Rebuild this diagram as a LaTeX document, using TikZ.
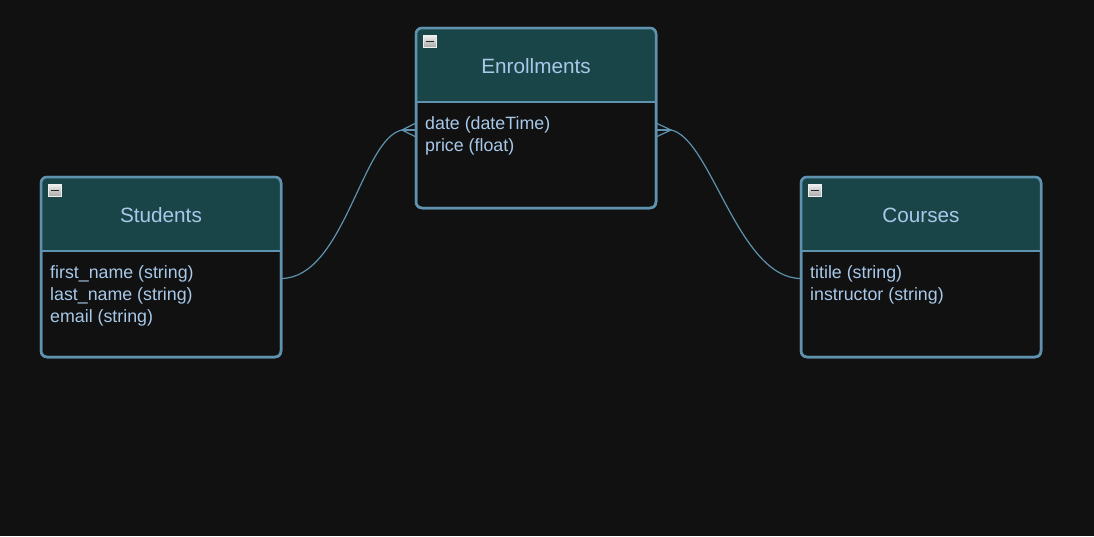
\documentclass[tikz,border=0pt]{standalone}
\usepackage{fontspec}
\setmainfont{Liberation Sans}
\definecolor{bg}{HTML}{111111}
\definecolor{hdr}{HTML}{1A4548}
\definecolor{bord}{HTML}{5E92AE}
\definecolor{txt}{HTML}{A8C8EA}
\definecolor{iconhi}{HTML}{EEEEEE}
\definecolor{iconlo}{HTML}{A8A8A8}
\tikzset{
  erbox/.style={fill=bg, draw=bord, line width=2.5pt, rounded corners=6pt,
    minimum width=240pt, minimum height=180pt, inner sep=0pt, outer sep=0pt},
  bordline/.style={draw=bord, line width=2.5pt},
  ttl/.style={text=txt, font=\fontsize{20.7}{24}\selectfont, inner sep=0pt},
  attr/.style={text=txt, font=\fontsize{17.8}{22}\selectfont, inner sep=0pt},
  iconbox/.style={minimum width=13pt, minimum height=12pt, inner sep=0pt,
    draw=iconhi, line width=0.9pt, top color=iconhi, bottom color=iconlo},
  conn/.style={draw=bord, line width=1.2pt},
}
\newcommand\erentity[5]{%
  \node[erbox, anchor=north west] (#1) at (#2,#3) {};
  \begin{scope}
    \clip[rounded corners=6pt] (#1.north west) rectangle (#1.south east);
    \fill[hdr] (#1.north west) rectangle ([yshift=-74pt]#1.north east);
  \end{scope}
  \draw[bordline] ([yshift=-74pt]#1.north west) -- ([yshift=-74pt]#1.north east);
  \draw[bordline, rounded corners=6pt] (#1.north west) rectangle (#1.south east);
  \node[iconbox, anchor=north west] (#1-i) at ([xshift=7pt,yshift=-7pt]#1.north west) {};
  \draw[line width=1.7pt, black!85] ([xshift=2.5pt]#1-i.west) -- ([xshift=-2.5pt]#1-i.east);
  \node[ttl, anchor=base] (#1-t) at ([yshift=-45pt]#1.north) {#4};
  \foreach \a [count=\i] in {#5} {
    \node[attr, anchor=base west] (#1-a\i) at ([xshift=9pt, yshift={-101.5pt-(\i-1)*22pt}]#1.north west) {\a};
  }
}
\begin{document}
\begin{tikzpicture}[x=1pt, y=-1pt]
  \fill[bg] (0,0) rectangle (1094,536);
  \useasboundingbox (0,0) rectangle (1094,536);

  \erentity{enr}{416}{28}{Enrollments}{date (dateTime), price (float)}
  \erentity{stu}{41}{177}{Students}{first\_name (string), last\_name (string), email (string)}
  \erentity{crs}{801}{177}{Courses}{titile (string), instructor (string)}

  % left connector: Students -> Enrollments (crow's foot at Enrollments)
  \coordinate (s-out) at (stu-a1.base -| stu.east);
  \coordinate (el) at ([yshift=-0.5pt]enr-a1.base -| enr.west);
  \coordinate (elt) at ([xshift=-14pt]el);
  \draw[conn] ([yshift=7pt]el) -- (elt) -- ([yshift=-7pt]el);
  \draw[conn] (elt) -- (el);
  \draw[conn] (s-out) .. controls +(63,0) and +(-40,8) .. (elt);

  % right connector: Courses -> Enrollments (crow's foot at Enrollments)
  \coordinate (c-in) at (crs-a1.base -| crs.west);
  \coordinate (er) at ([yshift=-0.5pt]enr-a1.base -| enr.east);
  \coordinate (ert) at ([xshift=15pt]er);
  \draw[conn] ([yshift=7pt]er) -- (ert) -- ([yshift=-7pt]er);
  \draw[conn] (ert) -- (er);
  \draw[conn] (ert) .. controls +(40,8) and +(-63,0) .. (c-in);
\end{tikzpicture}
\end{document}
